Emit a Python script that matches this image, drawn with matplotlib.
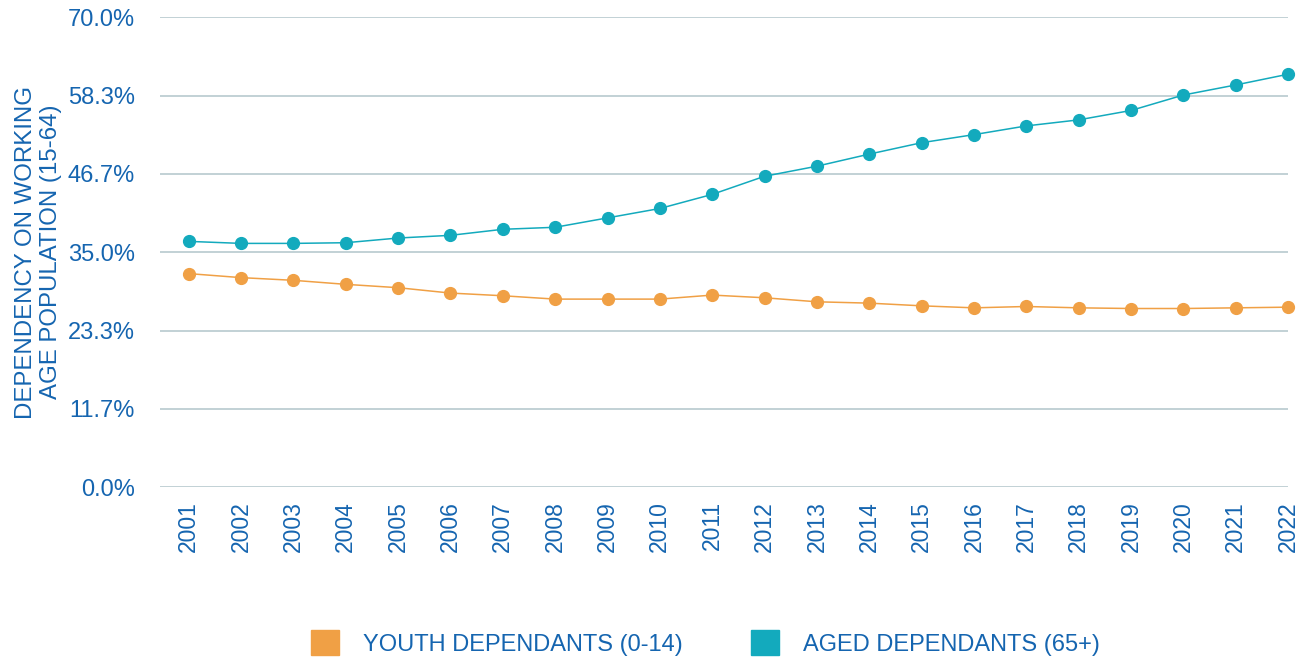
import numpy as np
import matplotlib.pyplot as plt
from matplotlib.patches import Patch

years = list(range(2001, 2023))
youth = [31.8, 31.2, 30.8, 30.2, 29.7, 28.9, 28.5, 28.0, 28.0, 28.0, 28.6, 28.2,
         27.6, 27.4, 27.0, 26.7, 26.9, 26.7, 26.6, 26.6, 26.7, 26.8]
aged = [36.6, 36.3, 36.3, 36.4, 37.1, 37.5, 38.4, 38.7, 40.1, 41.5, 43.6, 46.3,
        47.8, 49.6, 51.3, 52.5, 53.8, 54.7, 56.1, 58.4, 59.9, 61.5]
yticks = [0.0, 11.7, 23.3, 35.0, 46.7, 58.3, 70.0]

blue_txt = '#1565b0'
orange = '#f0a045'
teal = '#13aabd'

plt.rcParams['font.family'] = ['Liberation Sans', 'DejaVu Sans']

fig = plt.figure(figsize=(13.11, 6.60), dpi=100)
ax = fig.add_axes([0.122, 0.262, 0.8605, 0.712])

ax.plot(years, youth, color=orange, lw=1.1, marker='o', ms=8.5, clip_on=False, zorder=3)
ax.plot(years, aged, color=teal, lw=1.1, marker='o', ms=8.5, clip_on=False, zorder=3)

ax.set_xlim(2000.45, 2022)
ax.set_ylim(0, 70)
ax.set_yticks(yticks)
ax.set_yticklabels(['%.1f%%' % v for v in yticks])
ax.set_xticks(years)
ax.set_xticklabels([str(y) for y in years], rotation=90)
ax.tick_params(axis='y', length=0, labelsize=17, labelcolor=blue_txt, pad=18)
ax.tick_params(axis='x', length=0, labelsize=16.5, labelcolor=blue_txt, pad=10)
ax.grid(axis='y', color='#b8c9ce', lw=1.2)
ax.set_axisbelow(True)
for s in ax.spines.values():
    s.set_visible(False)

ax.set_ylabel('DEPENDENCY ON WORKING\nAGE POPULATION (15-64)', fontsize=17.3,
              color=blue_txt, linespacing=1.15)
ax.yaxis.set_label_coords(-0.087, 0.5)

handles = [Patch(color=orange, label='YOUTH DEPENDANTS (0-14)'),
           Patch(color=teal, label='AGED DEPENDANTS (65+)')]
leg = fig.legend(handles=handles, loc='center', bbox_to_anchor=(0.538, 0.026),
                 ncol=2, frameon=False, fontsize=17, handlelength=1.19,
                 handleheight=1.27, columnspacing=2.9, handletextpad=1.0,
                 borderpad=0, borderaxespad=0)
for t in leg.get_texts():
    t.set_color(blue_txt)

fig.savefig('out.png', dpi=100)
